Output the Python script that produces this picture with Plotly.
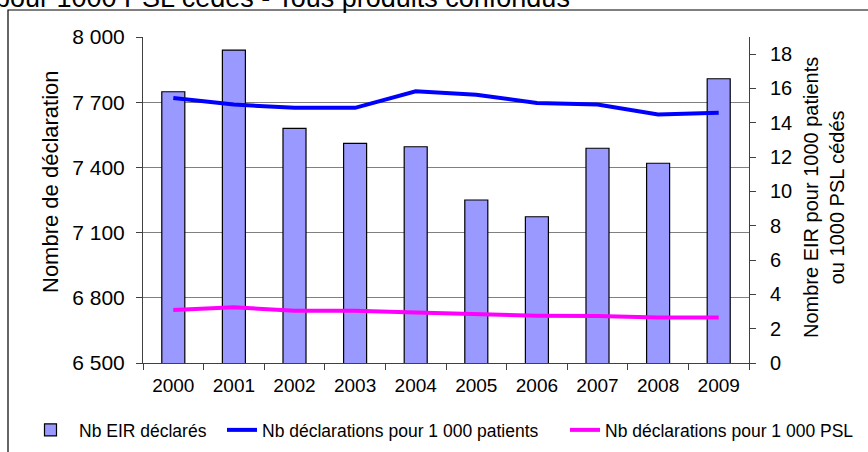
import plotly.graph_objects as go

years = ["2000", "2001", "2002", "2003", "2004", "2005", "2006", "2007", "2008", "2009"]
nb_eir = [7748, 7940, 7580, 7511, 7495, 7250, 7173, 7488, 7419, 7808]
pour_1000_patients = [15.45, 15.06, 14.87, 14.87, 15.84, 15.64, 15.16, 15.06, 14.48, 14.58]
pour_1000_psl = [3.09, 3.25, 3.04, 3.04, 2.94, 2.86, 2.76, 2.74, 2.65, 2.65]

left_ticks = [6500, 6800, 7100, 7400, 7700, 8000]
left_ticktext = ["6 500", "6 800", "7 100", "7 400", "7 700", "8 000"]
right_ticks = [0, 2, 4, 6, 8, 10, 12, 14, 16, 18]

FONT = "Arial, 'Liberation Sans', sans-serif"
W, H = 868, 452
L, R, T, B = 143, 119, 37, 89
PW, PH = W - L - R, H - T - B

def px_x(x):
    return (x - L) / PW

def px_y(y):
    return (H - B - y) / PH

fig = go.Figure()
fig.add_trace(go.Bar(
    x=years, y=nb_eir, name="Nb EIR déclarés",
    marker=dict(color="#9999FF", line=dict(color="black", width=1.2)),
    yaxis="y", legend="legend",
))
fig.add_trace(go.Scatter(
    x=years, y=pour_1000_patients, name="Nb déclarations pour 1 000 patients",
    mode="lines", line=dict(color="#0000FF", width=4), yaxis="y2", legend="legend2",
))
fig.add_trace(go.Scatter(
    x=years, y=pour_1000_psl, name="Nb déclarations pour 1 000 PSL",
    mode="lines", line=dict(color="#FF00FF", width=4), yaxis="y2", legend="legend3",
))

leg_common = dict(orientation="h", yanchor="middle", xanchor="left",
                  font=dict(size=17.5, family=FONT), bgcolor="rgba(0,0,0,0)",
                  borderwidth=0)

fig.update_layout(
    template="none",
    width=W, height=H,
    margin=dict(l=L, r=R, t=T, b=B, pad=0, autoexpand=False),
    paper_bgcolor="white", plot_bgcolor="white",
    font=dict(family=FONT, size=20, color="black"),
    bargap=0.62,
    showlegend=True,
    legend=dict(x=px_x(22), y=px_y(430), itemwidth=47, **leg_common),
    legend2=dict(x=px_x(222), y=px_y(430), itemwidth=30, **leg_common),
    legend3=dict(x=px_x(565), y=px_y(430), itemwidth=30, **leg_common),
    xaxis=dict(
        type="category", showgrid=False, showline=True, linecolor="#404040", linewidth=1,
        ticks="outside", tickson="boundaries", ticklen=6, tickcolor="#404040",
        tickfont=dict(size=19), ticklabelstandoff=5, automargin=False, zeroline=False,
    ),
    yaxis=dict(
        range=[6500, 8000], tickvals=left_ticks, ticktext=left_ticktext,
        showgrid=True, gridcolor="#808080", gridwidth=1,
        showline=True, linecolor="#404040", linewidth=1,
        ticks="outside", ticklen=6, tickcolor="#404040",
        tickfont=dict(size=21), ticklabelstandoff=7, zeroline=False, automargin=False,
    ),
    yaxis2=dict(
        range=[0, 19], tickvals=right_ticks, overlaying="y", side="right",
        showgrid=False, showline=True, linecolor="#404040", linewidth=1,
        ticks="outside", ticklen=6, tickcolor="#404040",
        tickfont=dict(size=20), ticklabelstandoff=10, zeroline=False, automargin=False,
    ),
    annotations=[
        dict(text="Nombre de déclaration", textangle=-90, xref="paper", yref="paper",
             x=px_x(50), y=px_y(182), xanchor="center", yanchor="middle",
             showarrow=False, font=dict(size=22, family=FONT)),
        dict(text="Nombre EIR pour 1000 patients<br>ou 1000 PSL cédés", textangle=-90,
             xref="paper", yref="paper", x=px_x(824), y=px_y(198),
             xanchor="center", yanchor="middle", showarrow=False,
             font=dict(size=20, family=FONT)),
        dict(text="pour 1000 PSL cédés - Tous produits confondus", xref="paper", yref="paper",
             x=px_x(572), y=px_y(15), xanchor="right", yanchor="bottom",
             showarrow=False, font=dict(size=27, family=FONT)),
    ],
    shapes=[
        dict(type="rect", xref="paper", yref="paper",
             x0=px_x(8), x1=px_x(900), y0=px_y(500), y1=px_y(10),
             line=dict(color="black", width=1.2), fillcolor="rgba(0,0,0,0)", layer="above"),
    ],
)

fig.write_html("out.html", config={"displayModeBar": False},
               post_script="document.body.style.margin='0px';")
